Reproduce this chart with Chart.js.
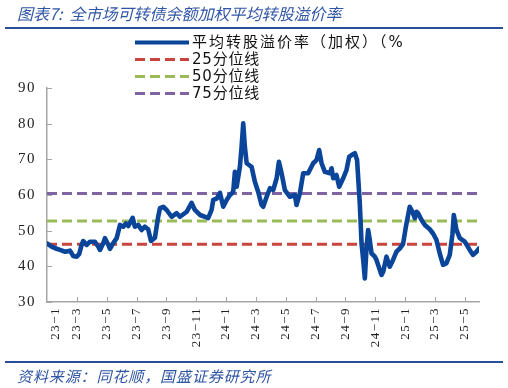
<!DOCTYPE html>
<html>
<head>
<meta charset="utf-8">
<script src="https://cdn.jsdelivr.net/npm/chart.js@4.4.1/dist/chart.umd.min.js"></script>
<style>
  html, body { margin: 0; padding: 0; background: #fff; }
  #wrap { position: relative; width: 508px; height: 388px; overflow: hidden; }
  #c { position: absolute; left: 0; top: 0; }
  .title { position: absolute; left: 17px; top: 1px; font: italic 16px "Noto Sans CJK SC", sans-serif; color: #2f55a5; letter-spacing: 0px; white-space: nowrap; }
  .rule { position: absolute; left: 5px; width: 498px; height: 2px; background: #2a4f98; }
  .foot { position: absolute; left: 17px; top: 365px; font: italic 15px "Noto Sans CJK SC", sans-serif; color: #2f55a5; letter-spacing: 0.9px; white-space: nowrap; }
</style>
</head>
<body>
<div id="wrap">
  <canvas id="c" width="508" height="388"></canvas>
  <div class="title">图表7:&nbsp;&nbsp;全市场可转债余额加权平均转股溢价率</div>
  <div class="rule" style="top:27px"></div>
  <div class="rule" style="top:361px"></div>
  <div class="foot">资料来源：同花顺，国盛证券研究所</div>
</div>
<script>
// x values: months elapsed since 2023-01-01
const months = [0.00,0.31,0.60,0.87,1.21,1.54,1.76,1.99,2.16,2.32,2.43,2.66,2.88,3.21,3.44,3.55,3.77,3.88,4.11,4.22,4.44,4.67,4.89,5.11,5.29,5.45,5.74,5.89,6.12,6.34,6.56,6.78,6.97,7.23,7.45,7.57,7.79,8.02,8.35,8.69,8.91,9.36,9.69,9.91,10.25,10.58,10.80,11.03,11.14,11.37,11.59,11.81,12.04,12.26,12.48,12.59,12.71,12.93,13.04,13.15,13.26,13.38,13.71,13.93,14.15,14.38,14.49,14.72,14.94,15.16,15.39,15.54,15.72,15.94,16.28,16.61,16.72,16.95,17.17,17.50,17.84,18.06,18.24,18.40,18.62,18.95,19.07,19.18,19.40,19.58,19.85,20.07,20.25,20.41,20.63,20.78,20.96,21.08,21.19,21.30,21.41,21.52,21.63,21.75,21.97,22.08,22.30,22.42,22.53,22.75,22.97,23.19,23.42,23.64,23.86,24.05,24.31,24.49,24.65,24.76,24.87,25.10,25.32,25.65,25.87,26.10,26.32,26.54,26.77,26.99,27.17,27.26,27.44,27.66,28.00,28.33,28.55,28.78,28.95];
const premium = [46.4,45.5,45.0,44.6,44.1,44.4,42.9,42.7,43.5,46.0,47.1,46.0,46.9,46.9,45.5,44.6,46.5,47.9,46.0,44.9,46.5,47.9,51.6,51.1,52.0,51.3,53.6,51.1,51.6,50.2,51.1,50.4,47.1,48.0,53.9,56.3,56.7,55.8,53.9,54.9,53.9,55.3,57.8,55.8,54.4,53.9,53.5,55.8,58.6,59.0,60.6,56.7,58.6,60.0,60.9,66.5,62.3,68.0,73.5,80.1,73.5,68.9,67.9,63.7,60.9,57.2,56.7,59.5,61.9,61.4,64.7,69.3,66.1,61.4,59.5,60.0,57.2,60.5,66.1,66.1,68.9,69.8,72.6,68.9,66.5,66.1,67.5,64.7,65.6,62.3,64.7,67.0,70.7,71.2,71.7,69.8,57.7,46.4,41.8,36.6,45.0,50.2,47.4,43.6,42.7,41.8,39.0,37.6,38.5,42.7,39.9,41.8,44.1,45.0,46.2,51.1,56.7,55.3,53.5,55.3,54.9,53.0,51.6,50.4,49.2,47.4,43.6,40.4,40.9,43.2,49.0,54.4,50.2,47.9,46.9,44.6,43.2,44.1,45.0];
const pct25 = 46.2, pct50 = 52.7, pct75 = 60.4;
const xTickValues = [0.55,2,4,6,8,10,12,14,16,18,20,22,24,26,28];
const xTickLabels = ['23−1','23−3','23−5','23−7','23−9','23−11','24−1','24−3','24−5','24−7','24−9','24−11','25−1','25−3','25−5'];
const seriesNames = ['平均转股溢价率（加权）（%','25分位线','50分位线','75分位线'];
const xMin = 0, xMax = 28.95;

const flat = v => [{x: xMin, y: v}, {x: xMax, y: v}];

const legendPlugin = {
  id: 'customLegend',
  afterDraw(chart) {
    const ctx = chart.ctx;
    ctx.save();
    chart.data.datasets.forEach((ds, i) => {
      const y = 42.5 + i * 17;
      ctx.beginPath();
      ctx.strokeStyle = ds.borderColor;
      ctx.lineWidth = i === 0 ? 4 : ds.borderWidth;
      ctx.setLineDash(ds.borderDash || []);
      ctx.lineCap = 'butt';
      ctx.moveTo(135, y);
      ctx.lineTo(189, y);
      ctx.stroke();
      ctx.setLineDash([]);
      ctx.fillStyle = '#111';
      ctx.font = '15px "DejaVu Sans", "Noto Sans CJK SC", sans-serif';
      ctx.letterSpacing = i === 0 ? '2px' : '0.8px';
      ctx.textBaseline = 'middle';
      ctx.textAlign = 'left';
      ctx.fillText(ds.label, 192, y + 1);
    });
    ctx.restore();
  }
};

const tickPlugin = {
  id: 'insideTicks',
  beforeDraw(chart) { chart.ctx.letterSpacing = '1.5px'; },
  afterDatasetsDraw(chart) {
    const ctx = chart.ctx, xs = chart.scales.x, ys = chart.scales.y;
    ctx.save();
    ctx.strokeStyle = '#a6a6a6';
    ctx.lineWidth = 1;
    ys.ticks.forEach(t => {
      const py = Math.round(ys.getPixelForValue(t.value)) + 0.5;
      ctx.beginPath(); ctx.moveTo(xs.left, py); ctx.lineTo(xs.left + 5, py); ctx.stroke();
    });
    xs.ticks.forEach((t, i) => {
      if (i === 0) return;
      const px = Math.round(xs.getPixelForValue(t.value)) + 0.5;
      ctx.beginPath(); ctx.moveTo(px, ys.bottom); ctx.lineTo(px, ys.bottom - 5); ctx.stroke();
    });
    ctx.restore();
  }
};

new Chart(document.getElementById('c'), {
  type: 'line',
  data: {
    datasets: [
      { label: seriesNames[0], data: months.map((m, i) => ({x: m, y: premium[i]})), borderColor: '#0a459a', borderWidth: 4.6, pointRadius: 0, tension: 0, borderJoinStyle: 'round', borderCapStyle: 'round' },
      { label: seriesNames[1], data: flat(pct25), borderColor: '#c9443f', borderWidth: 3, borderDash: [10, 5], pointRadius: 0 },
      { label: seriesNames[2], data: flat(pct50), borderColor: '#9bbb59', borderWidth: 3, borderDash: [10, 5], pointRadius: 0 },
      { label: seriesNames[3], data: flat(pct75), borderColor: '#8064a2', borderWidth: 3, borderDash: [10, 5], pointRadius: 0 }
    ]
  },
  options: {
    responsive: false,
    animation: false,
    devicePixelRatio: 1,
    layout: { padding: { left: 0, top: 88, right: 29, bottom: 0 } },
    plugins: { legend: { display: false }, tooltip: { enabled: false } },
    scales: {
      x: {
        type: 'linear', min: xMin, max: xMax,
        afterBuildTicks: s => { s.ticks = xTickValues.map(v => ({ value: v })); },
        afterFit: s => { s.height = 86; },
        grid: { display: false, drawTicks: false },
        border: { color: '#a6a6a6', width: 1.5 },
        ticks: {
          autoSkip: false, minRotation: 90, maxRotation: 90, padding: 5,
          color: '#222', font: { family: '"Liberation Serif", serif', size: 13 },
          callback: (v, i) => xTickLabels[i]
        }
      },
      y: {
        min: 30, max: 90,
        afterFit: s => { s.width = 47; },
        grid: { display: false, drawTicks: false },
        border: { color: '#a6a6a6', width: 1.5 },
        ticks: { stepSize: 10, padding: 11, color: '#222', font: { family: '"Liberation Serif", serif', size: 15 } }
      }
    }
  },
  plugins: [legendPlugin, tickPlugin]
});
</script>
</body>
</html>
